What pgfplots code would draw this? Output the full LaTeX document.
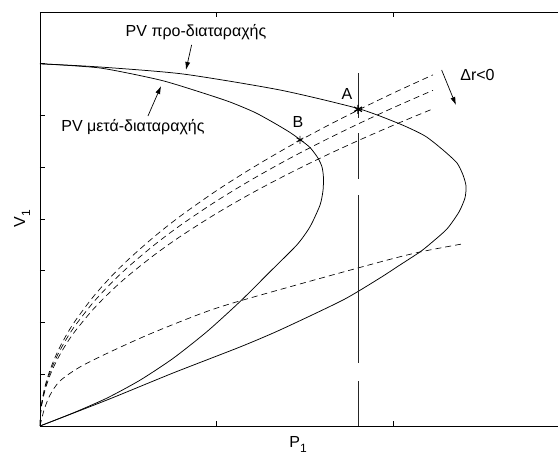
\documentclass[border=0pt]{standalone}
\usepackage{fontspec}
\setmainfont{Liberation Sans}
\usepackage{pgfplots}
\pgfplotsset{compat=1.18}
\usetikzlibrary{arrows.meta}

\begin{document}
\begin{tikzpicture}
\fontsize{16}{19}\selectfont
\begin{axis}[
  scale only axis, width=518pt, height=414pt,
  xmin=0, xmax=2.9315, ymin=0, ymax=8,
  axis x line*=box, axis y line*=left,
  xtick={1,2}, ytick={1,2,3,4,5,6,7},
  xticklabels={}, yticklabels={},
  tick align=inside, major tick length=5pt,
  tick style={black, line width=0.6pt},
  axis line style={black, line width=0.8pt},
  every axis plot/.append style={black, line width=0.75pt},
]
% PV curve before the disturbance
\addplot[smooth, tension=0.4] coordinates {
 (0,7.0) (0.340,6.937) (0.809,6.802) (1.358,6.493) (1.800,6.135)
 (2.037,5.836) (2.179,5.604) (2.281,5.333) (2.360,5.082) (2.394,4.850)
 (2.411,4.638) (2.405,4.406) (2.371,4.135) (2.303,3.807) (2.207,3.517)
 (2.150,3.362) (2.037,3.111) (1.924,2.860) (1.715,2.435) (1.358,1.855)
 (1.132,1.527) (0.753,1.024) (0.379,0.502) (0,0)};
% PV curve after the disturbance
\addplot[smooth, tension=0.4] coordinates {
 (0,7.0) (0.340,6.918) (0.679,6.686) (0.905,6.454) (1.075,6.261)
 (1.217,6.058) (1.330,5.846) (1.415,5.672) (1.471,5.536) (1.528,5.382)
 (1.573,5.179) (1.596,5.005) (1.604,4.812) (1.602,4.560) (1.585,4.271)
 (1.528,3.850) (1.454,3.500) (1.302,2.982) (1.132,2.404) (0.945,1.824)
 (0.753,1.306) (0.566,0.885) (0.379,0.539) (0.187,0.251) (0,0)};
% load characteristics
\addplot[smooth, dash pattern=on 6pt off 4pt, line width=0.65pt] coordinates {
 (0,0) (0.002,0.203) (0.01,0.455) (0.03,0.788) (0.06,1.114) (0.1,1.439)
 (0.15,1.762) (0.2,2.035) (0.3,2.492) (0.4,2.878) (0.5,3.217) (0.65,3.668)
 (0.8,4.070) (1.0,4.550) (1.2,4.984) (1.4,5.384) (1.6,5.755) (1.8,6.104)
 (2.0,6.435) (2.224,6.785)};
\addplot[smooth, dash pattern=on 6pt off 4pt, line width=0.65pt] coordinates {
 (0,0) (0.002,0.194) (0.01,0.435) (0.03,0.753) (0.06,1.065) (0.1,1.375)
 (0.15,1.685) (0.2,1.945) (0.3,2.382) (0.4,2.751) (0.5,3.076) (0.65,3.507)
 (0.8,3.891) (1.0,4.350) (1.2,4.765) (1.4,5.147) (1.6,5.502) (1.8,5.836)
 (2.0,6.152) (2.224,6.487)};
\addplot[smooth, dash pattern=on 6pt off 4pt, line width=0.65pt] coordinates {
 (0,0) (0.002,0.184) (0.01,0.411) (0.03,0.712) (0.06,1.007) (0.1,1.300)
 (0.15,1.592) (0.2,1.838) (0.3,2.251) (0.4,2.600) (0.5,2.906) (0.65,3.313)
 (0.8,3.676) (1.0,4.110) (1.2,4.502) (1.4,4.863) (1.6,5.199) (1.8,5.514)
 (2.0,5.812) (2.224,6.129)};
\addplot[smooth, dash pattern=on 6pt off 4pt, line width=0.65pt] coordinates {
 (0,0) (0.023,0.309) (0.057,0.599) (0.113,0.870) (0.226,1.140)
 (0.396,1.430) (0.622,1.778) (0.905,2.164) (1.092,2.377) (1.471,2.744)
 (1.924,3.169) (2.150,3.362) (2.388,3.517)};
% constant power line
\addplot[line width=0.7pt, black!85,
  dash pattern=on 45pt off 18pt on 168pt off 16pt on 46pt off 15pt on 45pt]
  coordinates {(1.8,0) (1.8,6.821)};
% operating points
\addplot[only marks, mark=asterisk, mark size=4.5pt, mark options={line width=1.3pt}]
  coordinates {(1.8,6.12)};
\addplot[only marks, mark=asterisk, mark size=4pt, mark options={line width=0.7pt}]
  coordinates {(1.471,5.53)};
% annotations
\node at (axis cs:0.883,7.614) {PV προ-διαταραχής};
\draw[-{Latex[length=8pt,width=5pt]}, line width=0.7pt] (axis cs:0.858,7.363) -- (axis cs:0.826,6.880);
\node at (axis cs:0.526,5.778) {PV μετά-διαταραχής};
\draw[-{Latex[length=8pt,width=5pt]}, line width=0.7pt] (axis cs:0.611,5.990) -- (axis cs:0.685,6.570);
\node at (axis cs:1.737,6.416) {A};
\node at (axis cs:1.460,5.874) {B};
\node at (axis cs:2.476,6.783) {Δr<0};
\draw[-{Latex[length=8pt,width=5pt]}, line width=0.7pt] (axis cs:2.273,6.879) -- (axis cs:2.354,6.203);
\end{axis}
% axis titles
\node at (258pt,-19pt) {P\raisebox{-5pt}{\fontsize{12}{13}\selectfont 1}};
\node[rotate=90] at (-18pt,207pt) {V\raisebox{-5pt}{\fontsize{12}{13}\selectfont 1}};
\pgfresetboundingbox
\path[use as bounding box] (-40pt,-31pt) rectangle (518pt,426pt);
\end{tikzpicture}
\end{document}
